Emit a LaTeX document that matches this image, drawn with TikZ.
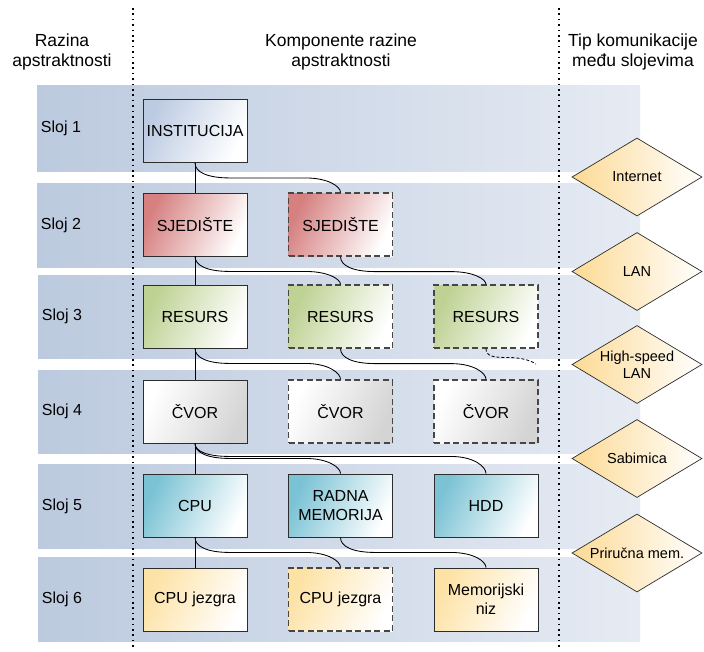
\documentclass[tikz,border=0pt]{standalone}
\usepackage{fontspec}
\setmainfont{Liberation Sans}
\usetikzlibrary{shapes.geometric,calc}

\definecolor{bandL}{RGB}{188,202,223}
\definecolor{bandR}{RGB}{230,235,243}
\definecolor{instc}{RGB}{188,203,226}
\definecolor{sjedc}{RGB}{214,128,128}
\definecolor{resc}{RGB}{190,210,148}
\definecolor{cvorc}{RGB}{212,212,212}
\definecolor{cpuc}{RGB}{122,194,212}
\definecolor{corec}{RGB}{253,226,165}
\definecolor{diac}{RGB}{252,218,148}
\definecolor{edgec}{RGB}{45,45,45}
\definecolor{dashc}{RGB}{70,70,70}

\begin{document}
\begin{tikzpicture}[x=1pt,y=-1pt,
  box/.style={rectangle, minimum width=104pt, minimum height=63pt, inner sep=1pt,
    draw=edgec, line width=0.9pt, font=\fontsize{16}{19}\selectfont, align=center},
  dbox/.style={box, draw=dashc, line width=1.2pt, dash pattern=on 6pt off 3.5pt},
  fInst/.style={top color=instc, bottom color=white, shading angle=65},
  fSjed/.style={top color=sjedc, bottom color=white, shading angle=65},
  fRes/.style={top color=resc, bottom color=white, shading angle=65},
  fCvor/.style={top color=white, bottom color=cvorc, shading angle=65},
  fCpu/.style={top color=cpuc, bottom color=white, shading angle=65},
  fCore/.style={top color=corec, bottom color=white, shading angle=65},
  dia/.style={diamond, minimum width=130pt, minimum height=78pt, inner sep=0pt,
    draw=edgec, line width=0.7pt, left color=diac, right color=white},
  dlbl/.style={font=\fontsize{14.5}{17}\selectfont, align=center},
  hdr/.style={font=\fontsize{17.5}{20}\selectfont, align=center},
  slbl/.style={font=\fontsize{16}{19}\selectfont},
  band/.style={left color=bandL, right color=bandR},
  dotline/.style={line width=1.5pt, dash pattern=on 1.5pt off 3.9pt},
  conn/.style={draw=black, line width=0.85pt},
  sconn/.style={to path={let \p1=(\tikztostart), \p2=(\tikztotarget),
      \p3=({\x1+35pt},{\y1-#1}), \p4=({\x2-35pt},{\y1-#1}) in
      (\p1) .. controls (\x1,{\y1-0.6*#1}) and ({\x1+12pt},\y3) .. (\p3)
      -- (\p4) .. controls ({\x2-12pt},\y3) and (\x2,{\y3-0.6*(\y3-\y2)}) .. (\p2)}}
]
% background / bounding box
\fill[white] (0,0) rectangle (704,651);
\useasboundingbox (0,0) rectangle (704,651);

% bands
\shade[band] (37,85) rectangle (640,171);
\shade[band] (37,183) rectangle (640,267);
\shade[band] (38,275) rectangle (640,358);
\shade[band] (38,370) rectangle (640,453);
\shade[band] (38,464) rectangle (640,548);
\shade[band] (38,557) rectangle (640,641);

% dotted separators
\coordinate (d1t) at (133,8);
\coordinate (d1b) at (133,649);
\coordinate (d2t) at (559,8);
\coordinate (d2b) at (559,649);
\draw[dotline] (d1t) -- (d1b);
\draw[dotline] (d2t) -- (d2b);

% headers
\node[hdr] (h1) at (62,52) {Razina\\apstraktnosti};
\node[hdr] (h2) at (341,52) {Komponente razine\\apstraktnosti};
\node[hdr] (h3) at (633,52) {Tip komunikacije\\među slojevima};

% layer labels
\node[slbl] (s1) at (61,128) {Sloj 1};
\node[slbl] (s2) at (61,225) {Sloj 2};
\node[slbl] (s3) at (62,316.5) {Sloj 3};
\node[slbl] (s4) at (62,411.5) {Sloj 4};
\node[slbl] (s5) at (62,506) {Sloj 5};
\node[slbl] (s6) at (62,599) {Sloj 6};

% boxes
\node[box,fInst] (inst) at (195,131) {INSTITUCIJA};
\node[box,fSjed] (sj1) at (195,224.5) {SJEDIŠTE};
\node[dbox,fSjed] (sj2) at (340.5,224.5) {SJEDIŠTE};
\node[box,fRes] (re1) at (195,316.5) {RESURS};
\node[dbox,fRes] (re2) at (340.5,316.5) {RESURS};
\node[dbox,fRes] (re3) at (486,316.5) {RESURS};
\node[box,fCvor] (cv1) at (195,411.5) {ČVOR};
\node[dbox,fCvor] (cv2) at (340.5,411.5) {ČVOR};
\node[dbox,fCvor] (cv3) at (486,411.5) {ČVOR};
\node[box,fCpu] (cpu) at (195,505.5) {CPU};
\node[box,fCpu] (ram) at (340.5,505.5) {RADNA\\MEMORIJA};
\node[box,fCpu] (hdd) at (486,505.5) {HDD};
\node[box,fCore] (co1) at (195,599.5) {CPU jezgra};
\node[dbox,fCore] (co2) at (340.5,599.5) {CPU jezgra};
\node[box,fCore] (mn) at (486,599.5) {Memorijski\\niz};

% diamonds
\node[dia, label={[dlbl]center:Internet}] (dInt) at (637,177) {};
\node[dia, label={[dlbl]center:LAN}] (dLan) at (637,271.5) {};
\node[dia, label={[dlbl]center:High-speed\\LAN}] (dHs) at (637,364.5) {};
\node[dia, label={[dlbl]center:Sabimica}] (dSab) at (637,458.5) {};
\node[dia, label={[dlbl]center:Priručna mem.}] (dPri) at (637,553) {};

% straight connectors
\draw[conn] (inst.south) -- (sj1.north);
\draw[conn] (sj1.south) -- (re1.north);
\draw[conn] (re1.south) -- (cv1.north);
\draw[conn] (cv1.south) -- (cpu.north);
\draw[conn] (cpu.south) -- (co1.north);

% curved connectors
\draw[conn] (inst.south) to[sconn=15pt] (sj2.north);
\draw[conn] (sj1.south) to[sconn=15pt] (re2.north);
\draw[conn] (sj2.south) to[sconn=15pt] (re3.north);
\draw[conn] (re1.south) to[sconn=15pt] (cv2.north);
\draw[conn] (re2.south) to[sconn=15pt] (cv3.north);
\draw[conn] (cv1.south) to[sconn=15pt] (ram.north);
\draw[conn] (cv1.south) to[sconn=13pt] (hdd.north);
\draw[conn] (cpu.south) to[sconn=15pt] (co2.north);
\draw[conn] (ram.south) to[sconn=15pt] (mn.north);

% dashed stub from the third resource
\coordinate (stub) at (536,364);
\draw[conn, dash pattern=on 3pt off 2pt] (re3.south) .. controls +(0,8) and +(-14,0) .. (508,357.5)
  .. controls +(12,0) and +(-6,-4) .. (stub);
\end{tikzpicture}
\end{document}
